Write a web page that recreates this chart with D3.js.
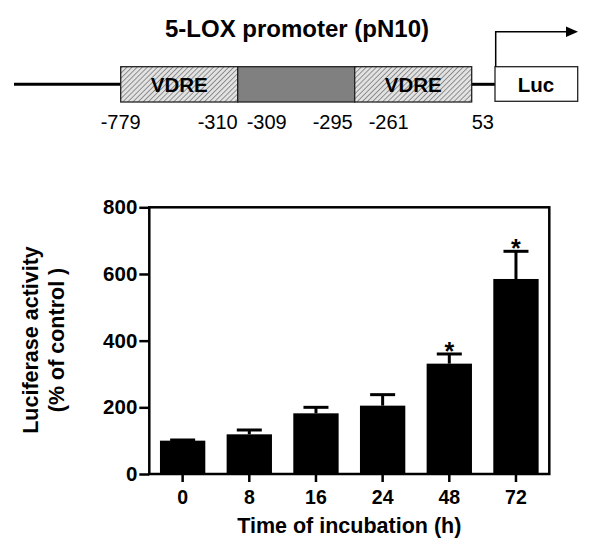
<!DOCTYPE html>
<html>
<head>
<meta charset="utf-8">
<script src="https://cdn.jsdelivr.net/npm/d3@7"></script>
<style>
  html, body { margin: 0; padding: 0; background: #fff; }
  svg { display: block; font-family: Arial, "Liberation Sans", Helvetica, sans-serif; }
</style>
</head>
<body>
<div id="chart"></div>
<script>
// ---------- data ----------
const diagramTitle = "5-LOX promoter (pN10)";
const segmentLabels = ["VDRE", "", "VDRE"];
const segmentTypes = ["hatch", "dark", "hatch"];
const positionLabels = ["-779", "-310", "-309", "-295", "-261", "53"];
const reporterLabel = "Luc";

const categories = ["0", "8", "16", "24", "48", "72"];
const values = [100, 119, 182, 205, 331, 585];
const errors = [2, 13, 18, 33, 29, 83];
const significant = [false, false, false, false, true, true];
const yTicks = [0, 200, 400, 600, 800];
const xTitle = "Time of incubation (h)";
const yTitle = ["Luciferase activity", "(% of control )"];

// ---------- svg ----------
const W = 600, H = 552;
const svg = d3.select("#chart").append("svg").attr("width", W).attr("height", H);

const defs = svg.append("defs");
const pat = defs.append("pattern")
  .attr("id", "hatch").attr("patternUnits", "userSpaceOnUse")
  .attr("width", 3.6).attr("height", 3.6)
  .attr("patternTransform", "rotate(45)");
pat.append("rect").attr("width", 3.6).attr("height", 3.6).attr("fill", "#e2e2e2");
pat.append("line").attr("x1", 0).attr("y1", 0).attr("x2", 0).attr("y2", 3.6)
  .attr("stroke", "#7a7a7a").attr("stroke-width", 1.6);

// ---------- promoter diagram ----------
const dg = svg.append("g");
const boxTop = 66.7, boxBot = 102, lineY = 84.3;
const segX = d3.scaleLinear().domain([0, segmentLabels.length]).range([120.7, 471.7]);

dg.append("text").attr("x", 297).attr("y", 37)
  .attr("text-anchor", "middle").attr("font-weight", "bold").attr("font-size", 24)
  .text(diagramTitle);

// backbone lines
dg.append("line").attr("x1", 14).attr("x2", segX(0)).attr("y1", lineY).attr("y2", lineY)
  .attr("stroke", "#000").attr("stroke-width", 3);
dg.append("line").attr("x1", segX(segmentLabels.length)).attr("x2", 495).attr("y1", lineY).attr("y2", lineY)
  .attr("stroke", "#000").attr("stroke-width", 3);

dg.selectAll("rect.seg").data(segmentLabels).join("rect")
  .attr("class", "seg")
  .attr("x", (d, i) => segX(i)).attr("y", boxTop)
  .attr("width", (d, i) => segX(i + 1) - segX(i)).attr("height", boxBot - boxTop)
  .attr("fill", (d, i) => segmentTypes[i] === "hatch" ? "url(#hatch)" : "#808080")
  .attr("stroke", "#222").attr("stroke-width", 1.3);

dg.selectAll("text.seg").data(segmentLabels).join("text")
  .attr("class", "seg")
  .attr("x", (d, i) => (segX(i) + segX(i + 1)) / 2).attr("y", lineY + 7.5)
  .attr("text-anchor", "middle").attr("font-weight", "bold").attr("font-size", 20.5)
  .text(d => d);

// Luc box
dg.append("rect").attr("x", 495).attr("y", boxTop).attr("width", 82.7).attr("height", boxBot - boxTop - 0.7)
  .attr("fill", "#fff").attr("stroke", "#222").attr("stroke-width", 1.3);
dg.append("text").attr("x", 536).attr("y", lineY + 7.5)
  .attr("text-anchor", "middle").attr("font-weight", "bold").attr("font-size", 20.5)
  .text(reporterLabel);

// transcription arrow
dg.append("path").attr("d", "M495.7,66.7 V31.7 H567")
  .attr("fill", "none").attr("stroke", "#000").attr("stroke-width", 1.5);
dg.append("path").attr("d", "M566,26.5 L578,31.7 L566,37 Z").attr("fill", "#000");

// position labels
const posX = [segX(0), segX(1), segX(1) + 9, segX(2) - 2, segX(2) + 14, segX(3)];
const posAnchor = ["middle", "end", "start", "end", "start", "start"];
dg.selectAll("text.pos").data(positionLabels).join("text")
  .attr("class", "pos")
  .attr("x", (d, i) => posX[i]).attr("y", 129)
  .attr("text-anchor", (d, i) => posAnchor[i]).attr("font-size", 20)
  .text(d => d);

// ---------- bar chart ----------
const pLeft = 149.3, pRight = 549.3, pTop = 207.3, pBottom = 474;
const x = d3.scaleBand().domain(categories).range([pLeft, pRight]).paddingInner(0.32).paddingOuter(0.16);
const y = d3.scaleLinear().domain([0, 800]).range([pBottom, pTop]);

const g = svg.append("g");

// bars
g.selectAll("rect.bar").data(values).join("rect")
  .attr("class", "bar")
  .attr("x", (d, i) => x(categories[i])).attr("width", x.bandwidth())
  .attr("y", d => y(d)).attr("height", d => y(0) - y(d))
  .attr("fill", "#000");

// error bars
const capW = 25;
const eb = g.selectAll("g.err").data(values).join("g").attr("class", "err");
eb.append("line")
  .attr("x1", (d, i) => x(categories[i]) + x.bandwidth() / 2)
  .attr("x2", (d, i) => x(categories[i]) + x.bandwidth() / 2)
  .attr("y1", d => y(d)).attr("y2", (d, i) => y(d + errors[i]))
  .attr("stroke", "#000").attr("stroke-width", 3);
eb.append("line")
  .attr("x1", (d, i) => x(categories[i]) + x.bandwidth() / 2 - capW / 2)
  .attr("x2", (d, i) => x(categories[i]) + x.bandwidth() / 2 + capW / 2)
  .attr("y1", (d, i) => y(d + errors[i])).attr("y2", (d, i) => y(d + errors[i]))
  .attr("stroke", "#000").attr("stroke-width", 3);

// asterisks
g.selectAll("text.sig").data(values.map((v, i) => ({ v, i })).filter(d => significant[d.i])).join("text")
  .attr("class", "sig")
  .attr("x", d => x(categories[d.i]) + x.bandwidth() / 2)
  .attr("y", d => y(d.v + errors[d.i]) + 6)
  .attr("text-anchor", "middle").attr("font-weight", "bold").attr("font-size", 25)
  .text("*");

// frame
g.append("rect").attr("x", pLeft).attr("y", pTop).attr("width", pRight - pLeft).attr("height", pBottom - pTop)
  .attr("fill", "none").attr("stroke", "#000").attr("stroke-width", 2.5);

// y axis
const yAxis = g.append("g").attr("transform", `translate(${pLeft},0)`)
  .call(d3.axisLeft(y).tickValues(yTicks).tickSize(10).tickPadding(2).tickFormat(d3.format("d")));
yAxis.select(".domain").remove();
yAxis.selectAll(".tick line").attr("stroke", "#000").attr("stroke-width", 2.5);
yAxis.selectAll(".tick text").attr("font-size", 20.5).attr("font-weight", "bold")
  .attr("font-family", "Arial, 'Liberation Sans', sans-serif").attr("fill", "#000");

// x axis
const xAxis = g.append("g").attr("transform", `translate(0,${pBottom})`)
  .call(d3.axisBottom(x).tickSize(8).tickPadding(8));
xAxis.select(".domain").remove();
xAxis.selectAll(".tick line").attr("stroke", "#000").attr("stroke-width", 2.5);
xAxis.selectAll(".tick text").attr("font-size", 19.5).attr("font-weight", "bold")
  .attr("font-family", "Arial, 'Liberation Sans', sans-serif").attr("fill", "#000");

// axis titles
g.append("text").attr("x", (pLeft + pRight) / 2).attr("y", 533)
  .attr("text-anchor", "middle").attr("font-weight", "bold").attr("font-size", 21.5)
  .text(xTitle);

const yt = g.append("text").attr("transform", "translate(0,340) rotate(-90)")
  .attr("text-anchor", "middle").attr("font-weight", "bold").attr("font-size", 21.5);
yt.selectAll("tspan").data(yTitle).join("tspan")
  .attr("x", 0).attr("y", (d, i) => 38 + i * 26)
  .text(d => d);
</script>
</body>
</html>
